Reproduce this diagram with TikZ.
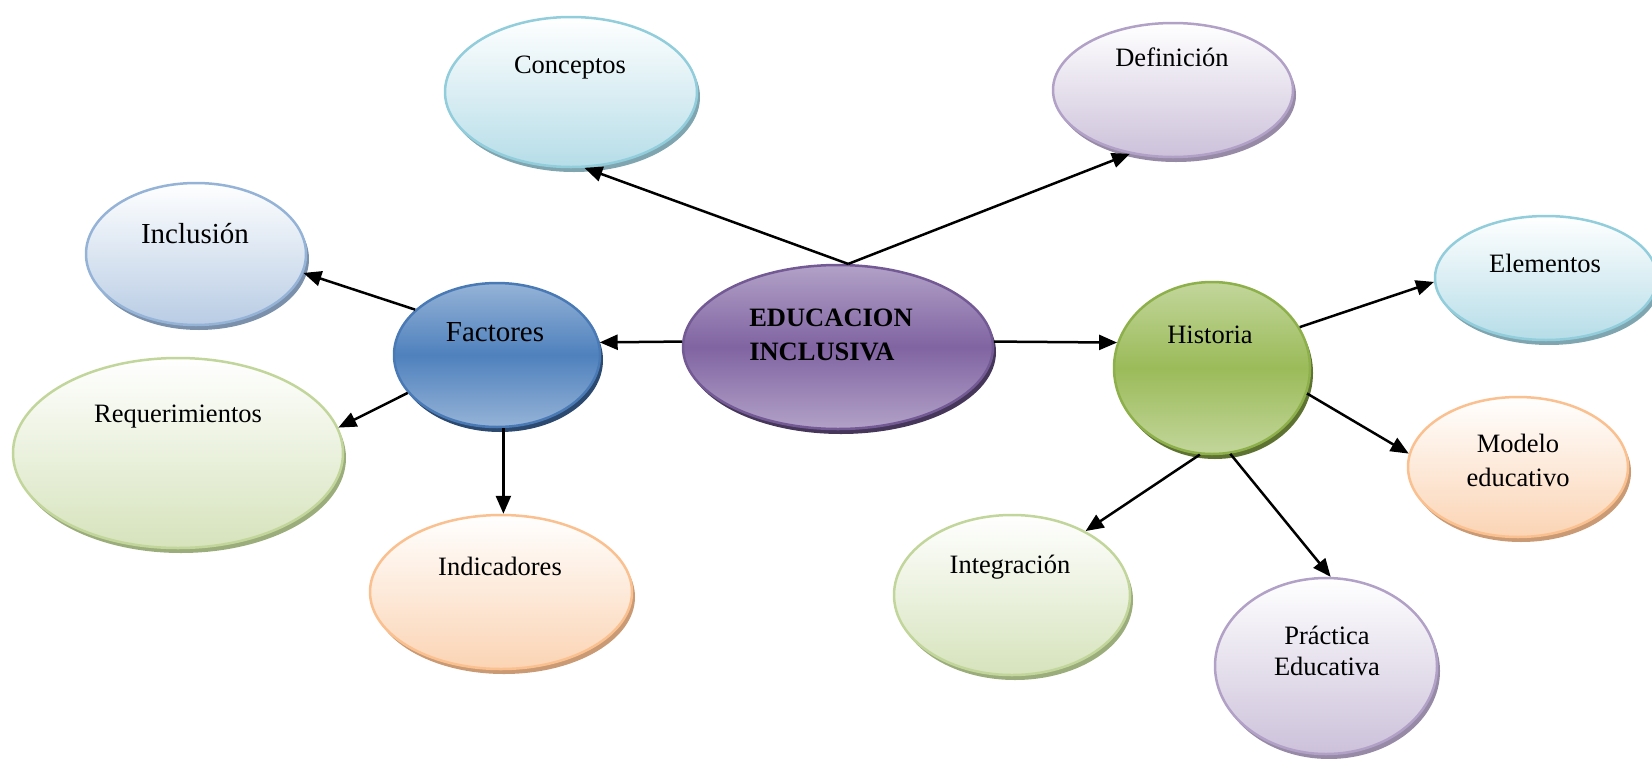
\documentclass[tikz,border=0pt]{standalone}
\usepackage{fontspec}
\setmainfont{Liberation Serif}
\usetikzlibrary{shapes.geometric,arrows.meta,shadows}
% aqua
\definecolor{aquaB}{HTML}{92CDDC}\definecolor{aquaF}{HTML}{B6DDE8}\definecolor{aquaS}{HTML}{7FA6B0}
% light purple
\definecolor{lpurB}{HTML}{B2A1C7}\definecolor{lpurF}{HTML}{CCC1DA}\definecolor{lpurS}{HTML}{978AA6}
% light blue
\definecolor{lbluB}{HTML}{95B3D7}\definecolor{lbluF}{HTML}{B8CCE4}\definecolor{lbluS}{HTML}{7A90AB}
% light green
\definecolor{lgrnB}{HTML}{C2D69B}\definecolor{lgrnF}{HTML}{D6E3BC}\definecolor{lgrnS}{HTML}{9CAD7C}
% orange
\definecolor{orgB}{HTML}{FAC08F}\definecolor{orgF}{HTML}{FBD4B4}\definecolor{orgS}{HTML}{C99A74}
% dark
\definecolor{bluM}{HTML}{4F81BD}\definecolor{bluL}{HTML}{95B3D7}\definecolor{bluB}{HTML}{4A7AB5}\definecolor{bluS}{HTML}{2C4A70}
\definecolor{grnM}{HTML}{9BBB59}\definecolor{grnL}{HTML}{C2D69B}\definecolor{grnB}{HTML}{8DB04A}\definecolor{grnS}{HTML}{5E7332}
\definecolor{purM}{HTML}{8064A2}\definecolor{purL}{HTML}{B2A1C7}\definecolor{purB}{HTML}{735A94}\definecolor{purS}{HTML}{45365A}
\tikzset{
  bub/.style={ellipse, line width=2.5pt, inner sep=0pt},
  shd/.style={drop shadow={shadow xshift=3pt, shadow yshift=-5pt, fill=#1, opacity=1}},
  lightE/.style 2 args={bub, draw=#1B, top color=white, bottom color=#1F, shd=#1S},
  darkE/.style={bub, draw=#1B, top color=#1L, bottom color=#1L, middle color=#1M, shd=#1S},
  lbl/.style={font=\fontsize{26.5}{33}\selectfont, align=center, inner sep=0pt},
  lblbig/.style={font=\fontsize{29}{34}\selectfont, align=center, inner sep=0pt},
  arr/.style={line width=2.5pt, -{Triangle[length=18pt,width=15pt]}},
}
\begin{document}
\begin{tikzpicture}[x=1pt,y=-1pt]
\useasboundingbox (0,0) rectangle (1652,758);
% ellipses
\node[darkE=pur, minimum width=310pt, minimum height=164pt] (edu) at (838,347) {};
\node[lightE={aqua}{}, minimum width=252pt, minimum height=150pt] (conc) at (571,92) {};
\node[lightE={lpur}{}, minimum width=240pt, minimum height=134pt] (defi) at (1173,90) {};
\node[lightE={lblu}{}, minimum width=220pt, minimum height=142pt] (incl) at (196,254) {};
\node[darkE=blu, minimum width=206pt, minimum height=144pt] (fact) at (497,355) {};
\node[darkE=grn, minimum width=196pt, minimum height=172pt] (hist) at (1212,368) {};
\node[lightE={aqua}{}, minimum width=222pt, minimum height=124pt] (elem) at (1546,278) {};
\node[lightE={lgrn}{}, minimum width=330pt, minimum height=190pt] (requ) at (178,453) {};
\node[lightE={org}{}, minimum width=262pt, minimum height=154pt] (indi) at (501,592) {};
\node[lightE={org}{}, minimum width=220pt, minimum height=140pt] (mode) at (1518,467) {};
\node[lightE={lgrn}{}, minimum width=236pt, minimum height=160pt] (inte) at (1012,595) {};
\node[lightE={lpur}{}, minimum width=222pt, minimum height=176pt] (prac) at (1326,666) {};
% labels
\node[lbl, font=\fontsize{26.5}{34}\selectfont\bfseries, align=left] (edu-t) at (831,335) {EDUCACION\\INCLUSIVA};
\node[lbl] (conc-t) at (570,68) {Conceptos};
\node[lbl] (defi-t) at (1172,57) {Definición};
\node[lblbig] (incl-t) at (195,234) {Inclusión};
\node[lblbig] (fact-t) at (495,332) {Factores};
\node[lbl] (hist-t) at (1210,335) {Historia};
\node[lbl] (elem-t) at (1545,263) {Elementos};
\node[lbl] (requ-t) at (178,417) {Requerimientos};
\node[lbl] (indi-t) at (500,566) {Indicadores};
\node[lbl, font=\fontsize{26.5}{34}\selectfont] (mode-t) at (1518,460) {Modelo\\educativo};
\node[lbl] (inte-t) at (1010,567) {Integración};
\node[lbl, font=\fontsize{26.5}{31}\selectfont] (prac-t) at (1327,651) {Práctica\\Educativa};
% connectors
\draw[arr] (edu.83) -- (conc.-80);
\draw[arr] (edu.83) -- (defi.-124);
\draw[arr] (edu.178) -- (fact.7);
\draw[arr] (edu.2) -- (hist.165);
\draw[arr] (fact.151) -- (incl.-10);
\draw[arr] (fact.203) -- (requ.9);
\draw[arr] (fact.-85) -- (fact.-85 |- indi.north);
\draw[arr] (hist.25) -- (elem.182);
\draw[arr] (hist.-15) -- (mode.173);
\draw[arr] (hist.-98) -- (inte.41);
\draw[arr] (hist.-78) -- (prac.87);
\end{tikzpicture}
\end{document}
